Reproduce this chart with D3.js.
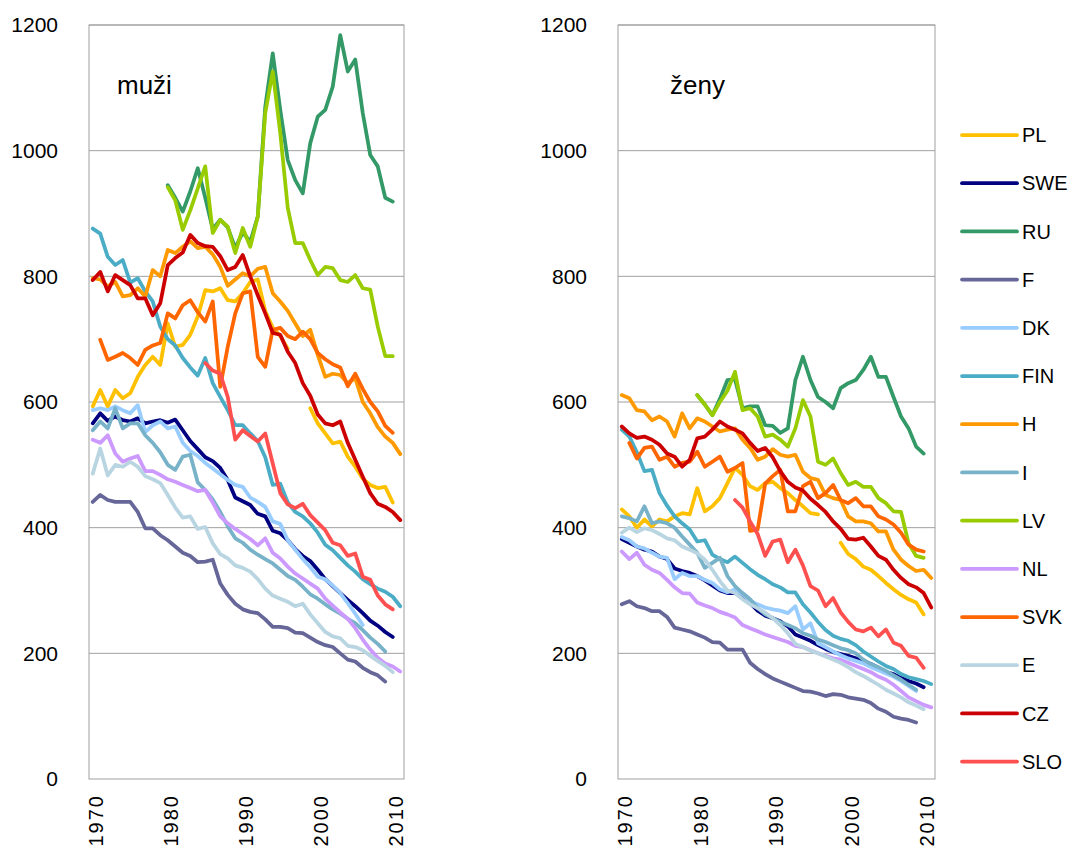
<!DOCTYPE html>
<html>
<head>
<meta charset="utf-8">
<script src="https://cdnjs.cloudflare.com/ajax/libs/d3/7.8.5/d3.min.js"></script>
<style>
  body { margin: 0; background: #fff; }
  text { font-family: "Liberation Sans", Arial, sans-serif; fill: #000; }
</style>
</head>
<body>
<svg id="chart" width="1070" height="849"></svg>
<script>
// years on the category axis
const years = d3.range(1970, 2012);
const tickYears = [1970, 1980, 1990, 2000, 2010];
const yTicks = [0, 200, 400, 600, 800, 1000, 1200];

const countries = ["PL", "SWE", "RU", "F", "DK", "FIN", "H", "I", "LV", "NL", "SVK", "E", "CZ", "SLO"];
const colors = ["#FFC000", "#000080", "#339966", "#666699", "#99CCFF", "#4BACC6", "#FF9900",
                "#78B2C9", "#99CC00", "#CC99FF", "#FF6600", "#B9D5E1", "#CC0000", "#FF5050"];
// first year of every series (same order as countries)
const startYears = [1970, 1970, 1980, 1970, 1970, 1970, 1970, 1970, 1980, 1970, 1971, 1970, 1970, 1985];

// muži
const muziPL  = [593,619,593,619,606,614,640,659,672,659, 725,688,691,707,736,778,776,781,762,760,
                 773,791,795,745,718,705,685,null,null,590, 566,550,534,537,513,497,478,468,463,465, 440];
const muziSWE = [566,582,570,577,571,569,574,566,569,571, 567,572,555,538,525,512,506,495,476,448,
                 442,436,422,418,395,391,380,366,355,347, 333,318,307,296,285,275,264,252,244,234, 226];
const muziRU  = [945,925,903,935,972,925,875,890,878,845, 870,855,895,1070,1155,1065,985,953,932,1012,
                 1054,1065,1102,1184,1126,1145,1060,993,975,925, 919];
const muziF   = [441,452,444,441,441,441,425,399,399,388, 380,370,360,355,345,346,349,311,293,279,
                 270,266,264,254,242,242,240,233,232,225, 218,213,210,200,190,187,177,170,165,155];
const muziDK  = [587,590,587,593,587,582,595,552,563,569, 558,561,535,522,514,503,494,485,476,468,
                 465,448,441,433,410,406,380,365,350,337, 322,318,308,296,280,263,245];
const muziFIN = [876,868,831,818,826,790,797,776,760,720, 700,690,670,655,642,670,630,608,587,563,
                 563,550,538,512,468,470,440,425,418,407, 392,373,364,352,340,330,318,310,303,298, 290,275];
const muziH   = [797,795,784,791,768,770,781,768,810,800, 842,837,847,856,845,847,835,815,785,795,
                 805,800,812,815,773,760,745,725,705,715, 675,640,645,643,630,638,600,582,560,545, 535,517];
const muziI   = [555,569,558,590,558,566,566,547,535,520, 500,492,513,516,472,460,445,425,402,383,
                 376,365,357,350,343,333,323,317,306,294, 287,278,270,263,255,248,237,225,215,203];
const muziLV  = [942,921,874,905,940,975,869,890,879,837, 877,847,895,1060,1126,1028,909,853,853,826,
                 802,815,813,794,791,802,781,779,720,673, 673];
const muziNL  = [540,535,547,518,505,510,514,490,490,484, 477,473,468,463,458,460,440,418,407,398,
                 390,382,372,383,360,351,338,327,319,311, 303,287,276,265,255,240,222,206,193,184, 179,171];
const muziSVK = [699,667,672,678,670,659,683,690,694,741, 733,754,762,743,728,760,624,688,741,773,
                 776,672,656,715,718,705,700,712,700,678, 668,660,655,625,645,621,600,585,562,551];
const muziE   = [486,526,483,500,497,505,497,482,477,471, 452,432,416,418,398,401,375,358,351,340,
                 336,330,318,303,292,287,282,275,279,262, 248,234,227,224,212,210,205,196,188,180, 170];
const muziCZ  = [794,807,776,802,794,786,765,765,738,757, 818,829,838,866,853,848,847,832,810,815,
                 834,800,770,741,710,707,680,662,630,610, 580,566,563,569,535,508,481,455,438,433, 425,412];
const muziSLO = [662,650,645,608,540,555,546,537,550,502, 455,437,431,438,420,408,396,376,372,355,
                 359,322,317,292,278,270];

// ženy
const zenyPL  = [429,418,400,413,402,413,410,418,423,421, 463,426,434,447,471,495,484,466,460,471,
                 473,463,455,444,434,423,421,null,null,376, 358,350,338,333,323,312,302,293,286,281, 262];
const zenySWE = [382,376,370,365,362,354,350,335,331,328, 323,316,308,300,296,296,290,280,268,260,
                 256,251,243,230,225,220,213,207,202,199, 196,192,188,183,177,170,167,161,156,152, 146];
const zenyRU  = [611,596,579,605,635,636,590,593,593,563, 562,551,558,635,672,635,608,600,590,622,
                 630,635,651,672,640,640,608,577,558,529, 518];
const zenyF   = [278,283,275,272,267,267,258,241,238,235, 230,225,218,217,206,206,206,185,175,167,
                 160,155,150,145,140,139,136,132,135,134, 130,128,126,121,112,107,99,96,94,90];
const zenyDK  = [385,380,370,367,360,354,352,318,328,323, 323,317,312,302,297,302,294,284,278,273,
                 270,268,264,275,238,248,216,210,203,197, 192,188,184,178,173,168,163,156,148,140];
const zenyFIN = [556,545,520,490,492,455,435,418,407,397, 378,380,357,350,345,354,344,334,325,318,
                 310,305,297,297,278,265,250,237,228,223, 220,213,203,195,187,180,175,167,162,159, 156,151];
const zenyH   = [611,606,587,585,571,577,569,545,582,558, 574,569,561,553,556,558,540,527,508,513,
                 525,516,513,516,489,479,476,452,447,444, 418,410,410,407,394,394,365,349,339,331, 333,320];
const zenyI   = [418,415,410,434,407,410,407,400,386,373, 360,336,344,352,323,307,296,286,272,262,
                 256,250,245,240,232,228,222,218,213,208, 205,200,190,183,178,172,165,158,150,142];
const zenyLV  = [611,596,579,600,618,648,587,590,577,545, 548,540,529,558,603,577,505,500,510,487,
                 468,473,465,465,447,439,426,425,375,355, 352];
const zenyNL  = [362,350,360,341,333,328,317,305,296,295, 281,276,272,266,262,257,245,240,235,230,
                 226,222,218,212,210,205,200,196,192,190, 185,180,175,170,163,158,150,140,130,124, 118,114];
const zenySVK = [535,510,527,529,508,513,497,503,505,521, 497,505,513,489,495,503,395,397,470,482,
                 492,426,426,466,473,447,455,468,444,439, 447,434,434,418,413,405,392,373,365,362];
const zenyE   = [392,400,393,399,396,390,383,380,370,365, 359,349,333,315,300,296,286,278,272,265,
                 256,245,232,215,210,204,200,195,190,185, 178,170,164,157,150,142,136,130,122,117, 111];
const zenyCZ  = [561,550,543,545,540,532,518,513,497,508, 542,545,556,569,561,556,550,535,522,527,
                 512,490,473,464,459,446,436,425,410,398, 382,381,384,370,355,349,333,320,310,305, 296,273];
const zenySLO = [444,432,410,390,355,378,381,345,365,340, 307,300,275,288,265,250,238,235,241,227,
                 238,217,212,196,193,177];

const muzi = [muziPL, muziSWE, muziRU, muziF, muziDK, muziFIN, muziH, muziI, muziLV, muziNL, muziSVK, muziE, muziCZ, muziSLO];
const zeny = [zenyPL, zenySWE, zenyRU, zenyF, zenyDK, zenyFIN, zenyH, zenyI, zenyLV, zenyNL, zenySVK, zenyE, zenyCZ, zenySLO];

const svg = d3.select("#chart");
const y = d3.scaleLinear().domain([0, 1200]).range([779, 25]);

function drawPanel(seriesList, left, right, title, titleX) {
    const g = svg.append("g");
    const x = d3.scalePoint().domain(years).range([left, right]).padding(0.5);

    // horizontal gridlines
    g.selectAll("line.grid")
        .data(yTicks.filter(function(d) { return d > 0; }))
        .enter().append("line")
        .attr("x1", left).attr("x2", right)
        .attr("y1", function(d) { return y(d); })
        .attr("y2", function(d) { return y(d); })
        .attr("stroke", "#a0a0a0").attr("stroke-width", 1);

    // plot frame
    g.append("rect")
        .attr("x", left).attr("y", y(1200))
        .attr("width", right - left).attr("height", y(0) - y(1200))
        .attr("fill", "none").attr("stroke", "#a0a0a0").attr("stroke-width", 1);

    // y axis labels
    const yAxis = g.append("g")
        .attr("transform", "translate(" + left + ",0)")
        .call(d3.axisLeft(y).tickValues(yTicks).tickFormat(d3.format("d")).tickSize(0).tickPadding(31));
    yAxis.select(".domain").remove();
    yAxis.selectAll("text")
        .style("font-size", "21px")
        .style("font-family", "'Liberation Sans', Arial, sans-serif");

    // x axis labels, rotated
    const xAxis = g.append("g")
        .attr("transform", "translate(0," + y(0) + ")")
        .call(d3.axisBottom(x).tickValues(tickYears).tickSize(0));
    xAxis.select(".domain").remove();
    xAxis.selectAll("text")
        .attr("transform", "rotate(-90)")
        .attr("text-anchor", "end")
        .attr("x", -15).attr("y", 3).attr("dy", "0.36em")
        .style("font-size", "20px")
        .style("letter-spacing", "2px")
        .style("font-family", "'Liberation Sans', Arial, sans-serif");

    const line = d3.line()
        .defined(function(d) { return d.v != null; })
        .x(function(d) { return x(d.year); })
        .y(function(d) { return y(d.v); });

    seriesList.forEach(function(vals, i) {
        const pts = vals.map(function(v, k) { return { year: startYears[i] + k, v: v }; });
        g.append("path")
            .datum(pts)
            .attr("d", line)
            .attr("fill", "none")
            .attr("stroke", colors[i])
            .attr("stroke-width", 3.75)
            .attr("stroke-linejoin", "round")
            .attr("stroke-linecap", "round");
    });

    g.append("text")
        .attr("x", titleX).attr("y", 94)
        .style("font-size", "26px")
        .text(title);
}

drawPanel(muzi, 89, 404, "muži", 117);
drawPanel(zeny, 618, 935, "ženy", 670);

// legend
const legend = svg.append("g").selectAll("g")
    .data(countries)
    .enter().append("g")
    .attr("transform", function(d, i) { return "translate(962," + (135 + i * 48.2) + ")"; });

legend.append("line")
    .attr("x1", 0).attr("x2", 55)
    .attr("stroke", function(d, i) { return colors[i]; })
    .attr("stroke-width", 3.75)
    .attr("stroke-linecap", "round");

legend.append("text")
    .attr("x", 60).attr("dy", "0.36em")
    .style("font-size", "20px")
    .text(function(d) { return d; });
</script>
</body>
</html>
